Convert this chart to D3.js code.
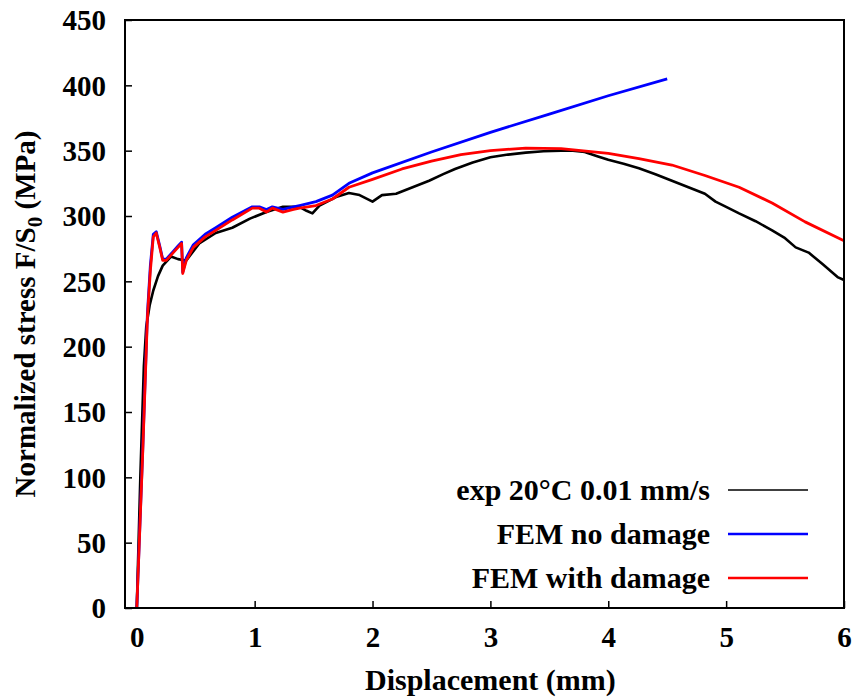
<!DOCTYPE html>
<html>
<head>
<meta charset="utf-8">
<script src="https://cdn.jsdelivr.net/npm/d3@7"></script>
<style>
  body { margin: 0; background: #fff; }
  text { font-family: "Liberation Serif", "Times New Roman", serif; font-weight: bold; }
</style>
</head>
<body>
<svg id="chart" width="859" height="698"></svg>
<script>
// experimental curve
var dispExp = [0, 0.03, 0.06, 0.08, 0.11, 0.14, 0.18, 0.22, 0.29, 0.35, 0.42, 0.53, 0.67, 0.81, 0.96, 1.10, 1.24, 1.38, 1.44, 1.49, 1.55, 1.69, 1.80, 1.89, 2.0, 2.08, 2.2, 2.34, 2.48, 2.6, 2.7, 2.85, 3.0, 3.15, 3.3, 3.45, 3.6, 3.7, 3.8, 3.9, 4.0, 4.13, 4.26, 4.4, 4.54, 4.68, 4.82, 4.91, 5.0, 5.11, 5.25, 5.39, 5.5, 5.59, 5.70, 5.82, 5.95, 6.0];
var stressExp = [0, 100, 185, 215, 232, 243, 254, 262, 269, 267, 266, 279, 287, 291, 298, 303, 307, 307, 304, 302, 308, 314.5, 317.6, 316, 311, 316, 317, 322, 327, 332, 336, 341, 345, 347, 348.5, 349.5, 350, 350, 349, 346, 343, 340, 336.5, 332, 327, 322, 317, 311, 307, 302, 296, 289, 283, 276, 272, 263, 253, 251];

// FEM without damage
var dispNoDmg = [0, 0.05, 0.09, 0.115, 0.14, 0.165, 0.195, 0.22, 0.25, 0.30, 0.35, 0.38, 0.39, 0.42, 0.48, 0.58, 0.67, 0.81, 0.98, 1.04, 1.10, 1.15, 1.24, 1.33, 1.38, 1.52, 1.66, 1.80, 2.0, 2.5, 3.0, 3.5, 4.0, 4.5];
var stressNoDmg = [0, 120, 225, 262, 286, 288, 277, 267, 267, 272, 277, 280, 257, 268, 278, 286, 291, 299, 307, 307, 305, 307, 305, 307, 308, 311, 316, 325, 333, 349, 364, 378, 392, 405];

// FEM with damage
var dispDmg = [0, 0.05, 0.09, 0.115, 0.14, 0.165, 0.195, 0.22, 0.25, 0.30, 0.35, 0.38, 0.39, 0.42, 0.48, 0.58, 0.67, 0.81, 0.98, 1.04, 1.10, 1.15, 1.24, 1.33, 1.38, 1.52, 1.66, 1.80, 2.0, 2.25, 2.5, 2.75, 3.0, 3.3, 3.6, 4.0, 4.26, 4.54, 4.82, 5.11, 5.39, 5.67, 6.0];
var stressDmg = [0, 118, 222, 258, 284, 287, 276, 266, 266, 271, 276, 279, 256, 266, 276, 284, 289, 297, 306, 306, 303, 306, 303, 305, 306, 308, 313, 322, 328, 336, 342, 347, 350, 352, 351.5, 348, 344, 339, 331, 322, 310, 295.5, 281];

var xTicks = [0, 1, 2, 3, 4, 5, 6];
var yTicks = [0, 50, 100, 150, 200, 250, 300, 350, 400, 450];

var seriesNames = ["exp 20\u00B0C 0.01 mm/s", "FEM no damage", "FEM with damage"];
var seriesColors = ["#000000", "#0000ff", "#ff0000"];

var svg = d3.select("#chart"),
    margin = {top: 20, right: 15, bottom: 90, left: 125},
    width = +svg.attr("width") - margin.left - margin.right,
    height = +svg.attr("height") - margin.top - margin.bottom,
    g = svg.append("g").attr("transform", "translate(" + margin.left + "," + margin.top + ")");

var x = d3.scaleLinear().domain([-0.1, 6]).range([0, width]);
var y = d3.scaleLinear().domain([0, 450]).range([height, 0]);

g.append("clipPath").attr("id", "clip")
  .append("rect").attr("width", width).attr("height", height);

// axes with inward ticks
var xAxis = g.append("g")
    .attr("transform", "translate(0," + height + ")")
    .call(d3.axisBottom(x).tickValues(xTicks).tickSize(-7).tickPadding(18).tickFormat(d3.format("d")));
var yAxis = g.append("g")
    .call(d3.axisLeft(y).tickValues(yTicks).tickSize(-7).tickPadding(19).tickFormat(d3.format("d")));

[xAxis, yAxis].forEach(function(a) {
  a.select(".domain").remove();
  a.selectAll(".tick line").attr("stroke", "#000").attr("stroke-width", 1.5);
  a.selectAll(".tick text").attr("fill", "#000").attr("font-size", 29)
    .attr("font-family", "Liberation Serif, serif").attr("font-weight", "bold");
});
yAxis.selectAll(".tick text").attr("dy", "0.34em");

// curves
var line = d3.line()
    .x(function(d) { return x(d[0]); })
    .y(function(d) { return y(d[1]); });

function pairs(xs, ys) {
  return xs.map(function(v, i) { return [v, ys[i]]; });
}

var curves = [pairs(dispExp, stressExp), pairs(dispNoDmg, stressNoDmg), pairs(dispDmg, stressDmg)];
var plot = g.append("g").attr("clip-path", "url(#clip)");
// experiment underneath, FEM lines on top
[0, 1, 2].forEach(function(i) {
  plot.append("path")
    .datum(curves[i])
    .attr("fill", "none")
    .attr("stroke", seriesColors[i])
    .attr("stroke-width", i == 0 ? 2.6 : 2.8)
    .attr("stroke-linejoin", "round")
    .attr("d", line);
});

// frame
g.append("rect")
  .attr("width", width).attr("height", height)
  .attr("fill", "none").attr("stroke", "#000").attr("stroke-width", 2);

// legend
var legend = g.append("g")
  .selectAll("g")
  .data(seriesNames)
  .enter().append("g")
    .attr("transform", function(d, i) { return "translate(0," + (470 + i * 44) + ")"; });

legend.append("text")
  .attr("x", 585)
  .attr("dy", "0.32em")
  .attr("text-anchor", "end")
  .attr("font-size", 30)
  .text(function(d) { return d; });

legend.append("line")
  .attr("x1", 603).attr("x2", 683)
  .attr("stroke", function(d, i) { return seriesColors[i]; })
  .attr("stroke-width", function(d, i) { return i == 0 ? 1.5 : 2.5; });

// axis titles
svg.append("text")
  .attr("x", margin.left + x(3))
  .attr("y", 690)
  .attr("text-anchor", "middle")
  .attr("font-size", 30)
  .text("Displacement (mm)");

var yl = svg.append("text")
  .attr("transform", "translate(35," + (margin.top + height / 2) + ") rotate(-90)")
  .attr("text-anchor", "middle")
  .attr("font-size", 29);
yl.append("tspan").text("Normalized stress F/S");
yl.append("tspan").attr("dy", 7).attr("font-size", 21).text("0");
yl.append("tspan").attr("dy", -7).text(" (MPa)");
</script>
</body>
</html>
